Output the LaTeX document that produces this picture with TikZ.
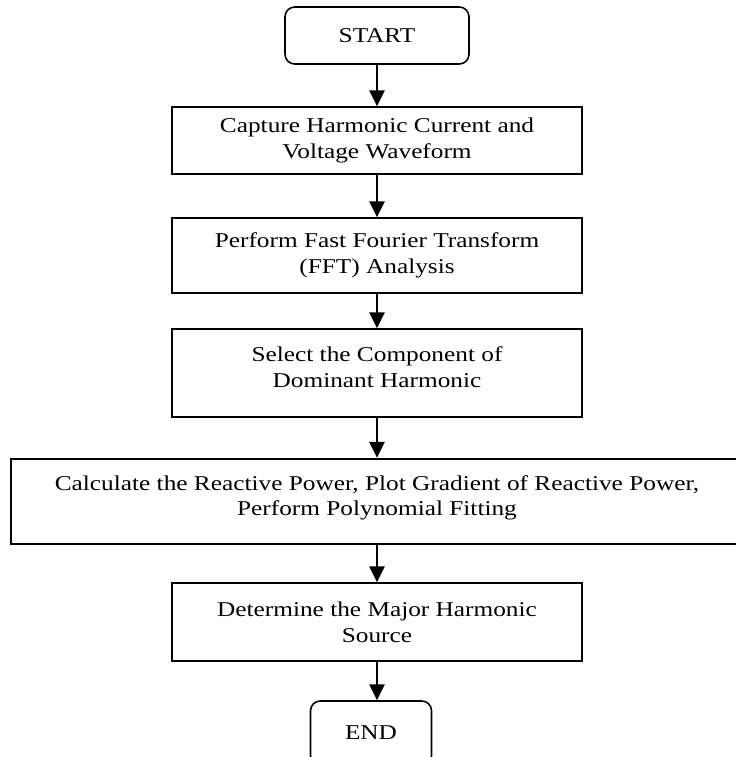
\documentclass[tikz,border=0pt]{standalone}
\usepackage{fontspec}
\setmainfont{Liberation Serif}[FakeStretch=1.2]
\usetikzlibrary{arrows.meta}

\begin{document}
\begin{tikzpicture}[x=0.02cm,y=-0.02cm,
  box/.style={draw, line width=0.9pt, align=center, inner sep=0pt, font=\fontsize{12}{14.7}\selectfont},
  term/.style={box, rounded corners=5.5pt},
  flow/.style={line width=1.5pt, -{Triangle[length=9pt,width=8.5pt]}}]
\useasboundingbox (0,0) rectangle (735,757);
\node[term, minimum width=3.68cm, minimum height=1.14cm] (Start) at (377,35.5) {START}; % the start
\node[box, minimum width=8.2cm, minimum height=1.34cm] (Capture) at (377,140.5) {Capture Harmonic Current and\\Voltage Waveform};
\node[box, minimum width=8.2cm, minimum height=1.5cm] (FFT) at (377,255.5) {Perform Fast Fourier Transform\\(FFT) Analysis};
\node[box, minimum width=8.2cm, minimum height=1.76cm] (Select) at (377,373) {Select the Component of\\Dominant Harmonic\\[-8pt]\mbox{}};
\node[box, line width=1.4pt, minimum width=14.64cm, minimum height=1.7cm] (Calc) at (377,501.5) {Calculate the Reactive Power, Plot Gradient of Reactive Power,\\Perform Polynomial Fitting\\[-8pt]\mbox{}};
\node[box, minimum width=8.2cm, minimum height=1.56cm] (Major) at (377,622) {Determine the Major Harmonic\\Source};
\node[term, minimum width=2.42cm, minimum height=1.28cm] (End) at (371,733) {END}; % the end
\foreach \a/\b in {Start/Capture,Capture/FFT,FFT/Select,Select/Calc,Calc/Major} \draw[flow] (\a) -- (\b);
\draw[flow] (Major.south) -- (Major.south |- End.north);
\end{tikzpicture}
\end{document}
